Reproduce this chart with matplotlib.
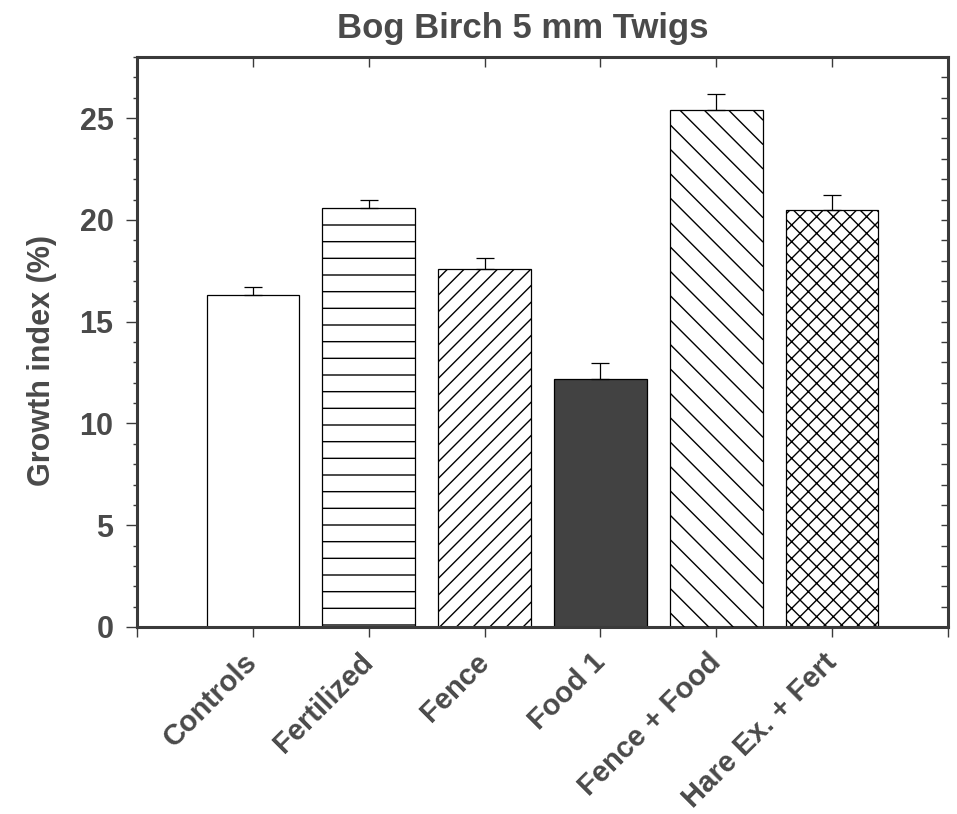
import numpy as np
import matplotlib
matplotlib.use("Agg")
import matplotlib.pyplot as plt
from matplotlib.ticker import MultipleLocator
from matplotlib.transforms import ScaledTranslation

# treatments and growth index values (%)
treatments = ["Controls", "Fertilized", "Fence", "Food 1", "Fence + Food", "Hare Ex. + Fert"]
growth = [16.3, 20.6, 17.6, 12.2, 25.4, 20.5]
errors = [0.38, 0.39, 0.52, 0.78, 0.78, 0.74]
hatches = ["", "-", "//", "", None, "xx"]
fills = ["white", "white", "white", "#424242", "white", "white"]

plt.rcParams["font.family"] = ["Liberation Sans", "DejaVu Sans"]
plt.rcParams["hatch.linewidth"] = 1.0
text_col = "#4a4a4a"
spine_col = "#3a3a3a"

fig = plt.figure(figsize=(9.57, 8.14), dpi=100)
ax = fig.add_axes([137 / 957, 1 - 627 / 814, 811 / 957, 570 / 814])

x = np.arange(1, len(treatments) + 1)
bars = ax.bar(x, growth, width=0.8, color=fills, edgecolor="black", linewidth=0.9,
              yerr=[np.zeros(len(errors)), errors], capsize=6.5,
              error_kw=dict(elinewidth=0.9, capthick=0.9, ecolor="black"), zorder=2)
for b, h in zip(bars, hatches):
    if h:
        b.set_hatch(h)

ax.set_xlim(0, 7)
ax.set_ylim(0, 28)

# sparser backslash hatch for "Fence + Food", drawn as clipped lines
b = bars[4]
px0, py0 = ax.transData.transform((b.get_x(), 0))
px1, py1 = ax.transData.transform((b.get_x() + b.get_width(), b.get_height()))
inv = ax.transData.inverted()
for c in np.arange(px0 + py0 - 10, px1 + py1 + 30, 24.4):
    p = inv.transform([(px0, c - px0), (px1, c - px1)])
    ln, = ax.plot(p[:, 0], p[:, 1], color="black", lw=1.0, zorder=3)
    ln.set_clip_path(b)

for s in ax.spines.values():
    s.set_linewidth(2.2)
    s.set_color(spine_col)

ax.set_xticks(np.arange(0, 8))
ax.set_xticklabels([""] + treatments + [""], rotation=45, ha="right",
                   rotation_mode="anchor", fontsize=21, fontweight="bold", color=text_col)
ax.tick_params(axis="x", direction="out", length=7, width=1.0, color=spine_col, pad=8)
shift = ScaledTranslation(-7 / 72, 0, fig.dpi_scale_trans)
for lab in ax.get_xticklabels():
    lab.set_transform(lab.get_transform() + shift)

ax.yaxis.set_major_locator(MultipleLocator(5))
ax.yaxis.set_minor_locator(MultipleLocator(1))
ax.tick_params(axis="y", which="major", direction="out", length=8, width=1.0,
               color=spine_col, labelsize=22, pad=9, labelcolor=text_col)
ax.tick_params(axis="y", which="minor", direction="out", length=3, width=1.0, color=spine_col)
for lab in ax.get_yticklabels():
    lab.set_fontweight("bold")

ax.set_ylabel("Growth index (%)", fontsize=22, fontweight="bold", color=text_col)
ax.yaxis.set_label_coords(-0.099, 0.468)
ax.set_title("Bog Birch 5 mm Twigs", fontsize=25, fontweight="bold", color=text_col,
             pad=14, x=0.476)

# inward ticks on top and right
top = ax.twiny()
top.set_xlim(ax.get_xlim())
top.set_xticks(x)
top.set_xticklabels([])
top.tick_params(axis="x", direction="in", length=7, width=1.0, color=spine_col)

right = ax.twinx()
right.set_ylim(ax.get_ylim())
right.yaxis.set_major_locator(MultipleLocator(1))
right.set_yticklabels([])
right.tick_params(axis="y", direction="in", length=5, width=1.0, color=spine_col)
for a in (top, right):
    for s in a.spines.values():
        s.set_visible(False)

fig.savefig("out.png", dpi=100)
